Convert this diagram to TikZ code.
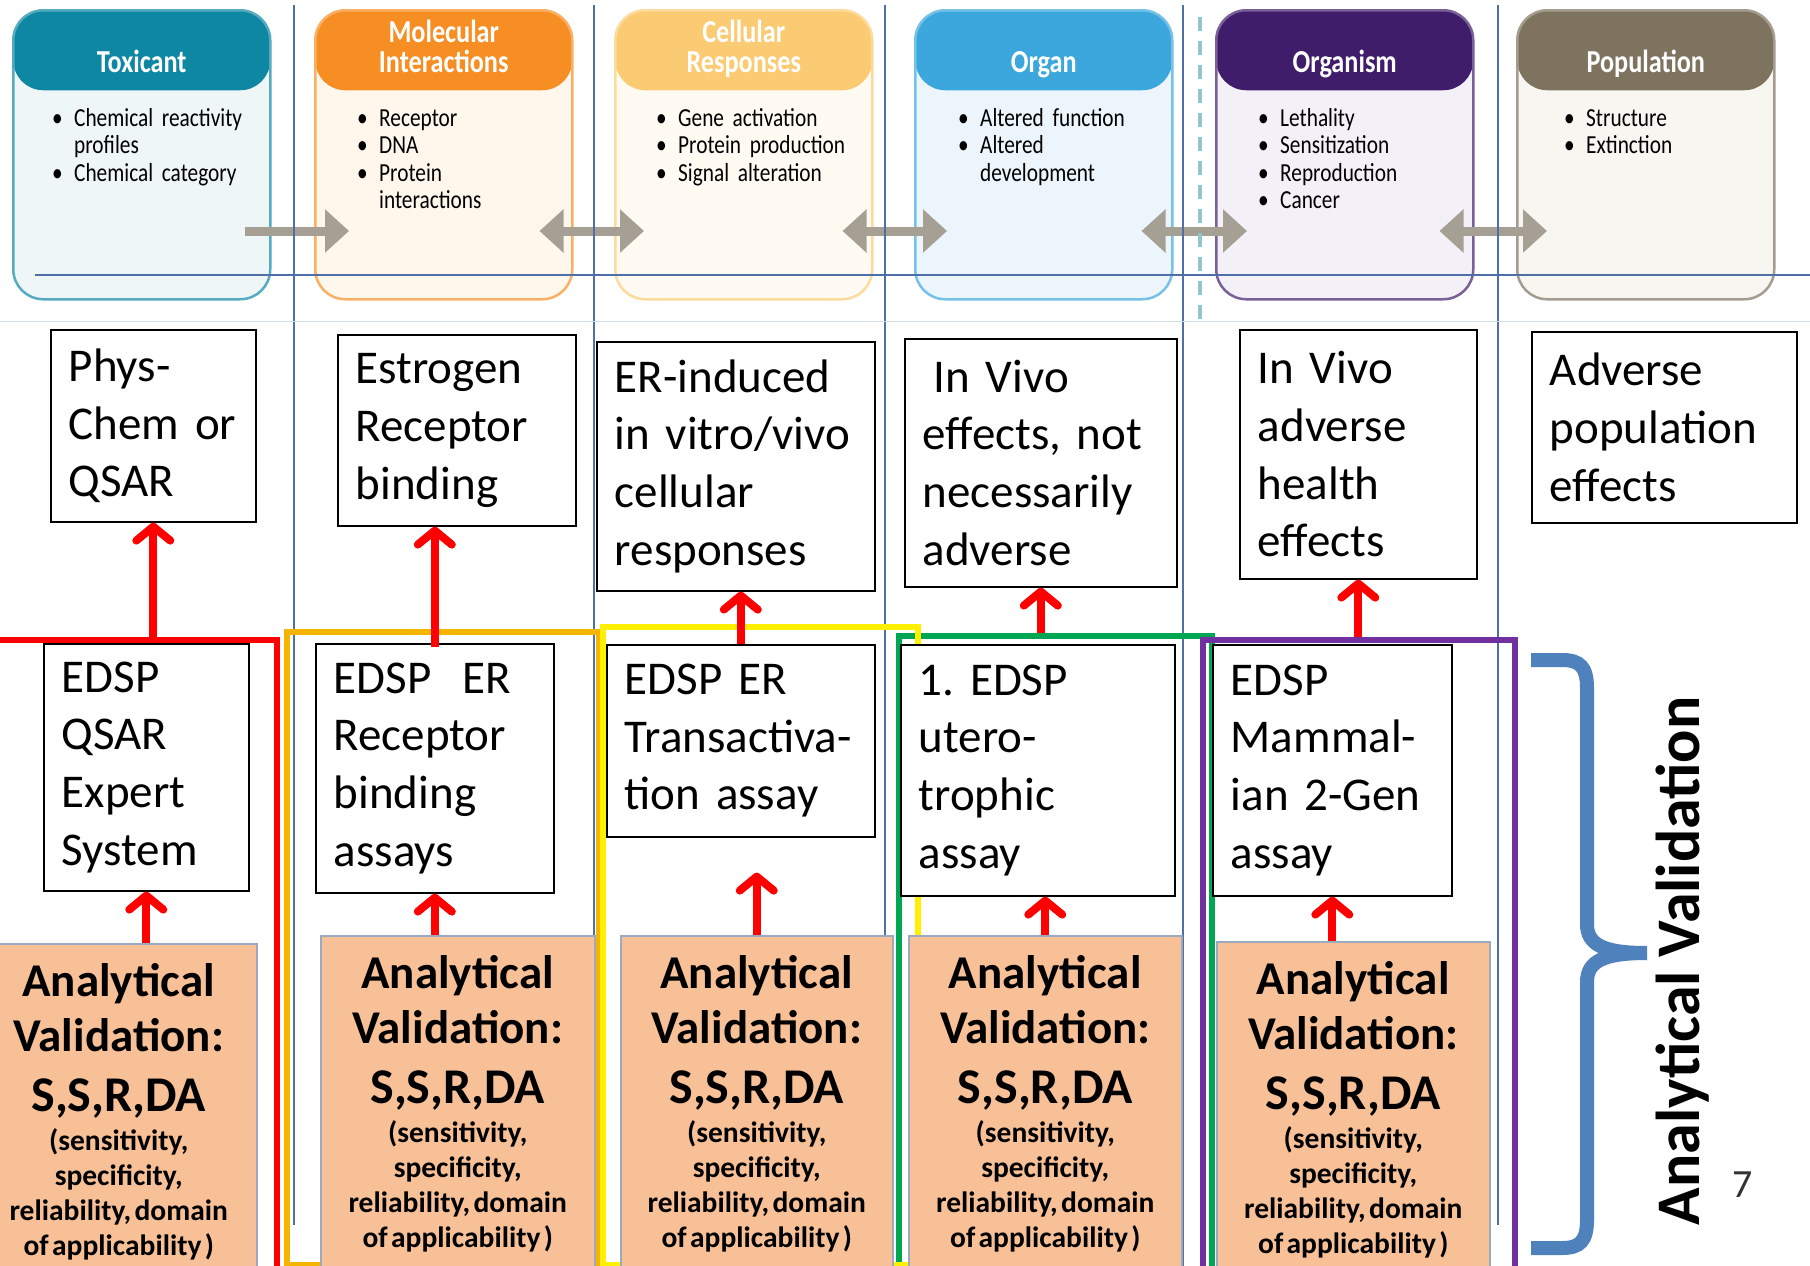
\documentclass[tikz,border=0pt]{standalone}
\usepackage{fontspec}
\setmainfont{Carlito}
\newfontfamily\narrowfont[FakeStretch=0.82]{Carlito}
\usepackage{xcolor}
\usepackage{tikz}
\usetikzlibrary{arrows.meta,positioning}
\hyphenpenalty=10000
\exhyphenpenalty=10000
\definecolor{toxband}{HTML}{0E87A3}
\definecolor{toxbody}{HTML}{EEF6F8}
\definecolor{molband}{HTML}{F68E23}
\definecolor{molbody}{HTML}{FFF6EC}
\definecolor{celband}{HTML}{FBCB73}
\definecolor{celbody}{HTML}{FFFBF3}
\definecolor{orgband}{HTML}{3BA7DD}
\definecolor{orgbody}{HTML}{ECF5FB}
\definecolor{orgmband}{HTML}{3F1D6A}
\definecolor{orgmbody}{HTML}{F3F0F7}
\definecolor{popband}{HTML}{7D735F}
\definecolor{popbody}{HTML}{F8F6F1}
\definecolor{arrowgray}{HTML}{A69F94}
\definecolor{gridblue}{HTML}{4F6FA8}
\definecolor{faintblue}{HTML}{D0DEEB}
\definecolor{dashteal}{HTML}{8FC6CF}
\definecolor{frred}{HTML}{FF0000}
\definecolor{frgold}{HTML}{F5B400}
\definecolor{fryel}{HTML}{FFF000}
\definecolor{frgrn}{HTML}{00A651}
\definecolor{frpur}{HTML}{7030A0}
\definecolor{avfill}{HTML}{F7C097}
\definecolor{avborder}{HTML}{9AAAC0}
\definecolor{arrred}{HTML}{FF0000}
\definecolor{braceblue}{HTML}{4F81BD}
\newcommand{\boxfont}{\fontsize{47}{57.7}\selectfont}
\newcommand{\avhead}{\fontsize{47}{55}\selectfont\bfseries}
\newcommand{\avssr}{\fontsize{50}{60}\selectfont\bfseries}
\newcommand{\avsmall}{\fontsize{29.5}{35}\selectfont\bfseries}
\newcommand{\bul}{\makebox[22pt][l]{\textbullet}}
\newcommand{\ind}{\hspace*{22pt}}
\newcommand{\avcontent}{{\avhead Analytical\\Validation:\par}{\avssr S,S,R,DA\par}{\avsmall\vspace{4pt}(sensitivity,\\specificity,\\reliability,~domain\\of~applicability~)\par}}
\tikzset{
    stage/.style 2 args={draw=#1!70, line width=2.5pt, fill=#2, rounded corners=30pt,
        minimum width=257pt, minimum height=289pt, anchor=north west, inner sep=0pt,
        path picture={\fill[#1] (path picture bounding box.north west) rectangle ([yshift=-80pt]path picture bounding box.north east);}},
    stagetitle/.style={text=white, font=\narrowfont\bfseries\fontsize{32}{30}\selectfont, align=center, anchor=base, inner sep=0pt},
    stagelist/.style={font=\narrowfont\fontsize{26}{27.5}\selectfont, text width=210pt, align=left, anchor=base west, inner sep=0pt},
    grayarr/.style={draw=arrowgray, line width=9pt, -{Triangle[length=24pt,width=42pt]}},
    grayarrtwo/.style={draw=arrowgray, line width=9pt, {Triangle[length=24pt,width=42pt]}-{Triangle[length=24pt,width=42pt]}},
    gridline/.style={draw=gridblue, line width=1.3pt},
    txtbox/.style 2 args={draw=black, line width=1.6pt, fill=white, anchor=north west, align=left, inner xsep=18pt, inner ysep=0pt, text width=#1, minimum height=#2, font=\boxfont},
    grp/.style={draw=#1, line width=6pt, anchor=north west, inner sep=0pt},
    avbox/.style={draw=avborder, line width=1.5pt, fill=avfill, anchor=north west, inner sep=0pt, minimum height=340pt},
    avtext/.style={anchor=base, align=center, inner sep=0pt, text width=#1},
    redarr/.style={draw=arrred, line width=8pt, -{Straight Barb[length=14pt,width=34pt,round]}},
    brace/.style={draw=braceblue, line width=14pt}
}
\begin{document}
\begin{tikzpicture}[x=1pt,y=-1pt]
            \useasboundingbox (0,0) rectangle (1810,1266);
            \fill[white] (0,0) rectangle (1810,1266);
            % stages
            \node[stage={toxband}{toxbody}] (tox) at (12,9) {};
            \node[stage={molband}{molbody}] (mol) at (314,9) {};
            \node[stage={celband}{celbody}] (cel) at (614,9) {};
            \node[stage={orgband}{orgbody}] (org) at (914,9) {};
            \node[stage={orgmband}{orgmbody}] (orgm) at (1215,9) {};
            \node[stage={popband}{popbody}] (pop) at (1516,9) {};
            \node[stagetitle] (toxT) at ([yshift=-63pt]tox.north) {Toxicant};
            \node[stagetitle] (molT) at ([yshift=-63pt]mol.north) {Molecular\\Interactions};
            \node[stagetitle] (celT) at ([yshift=-63pt]cel.north) {Cellular\\Responses};
            \node[stagetitle] (orgT) at ([yshift=-63pt]org.north) {Organ};
            \node[stagetitle] (orgmT) at ([yshift=-63pt]orgm.north) {Organism};
            \node[stagetitle] (popT) at ([yshift=-63pt]pop.north) {Population};
            \node[stagelist] (toxL) at ([shift={(40pt,-117pt)}]tox.north west) {\bul Chemical reactivity\\\ind profiles\\\bul Chemical category};
            \node[stagelist] (molL) at ([shift={(43pt,-117pt)}]mol.north west) {\bul Receptor\\\bul DNA\\\bul Protein\\\ind interactions};
            \node[stagelist] (celL) at ([shift={(42pt,-117pt)}]cel.north west) {\bul Gene activation\\\bul Protein production\\\bul Signal alteration};
            \node[stagelist] (orgL) at ([shift={(44pt,-117pt)}]org.north west) {\bul Altered function\\\bul Altered\\\ind development};
            \node[stagelist] (orgmL) at ([shift={(43pt,-117pt)}]orgm.north west) {\bul Lethality\\\bul Sensitization\\\bul Reproduction\\\bul Cancer};
            \node[stagelist] (popL) at ([shift={(48pt,-117pt)}]pop.north west) {\bul Structure\\\bul Extinction};
            \draw[grayarr] ([shift={(-27pt,-222pt)}]tox.north east) -- ([shift={(35pt,-222pt)}]mol.north west);
            \draw[grayarrtwo] ([shift={(-34pt,-222pt)}]mol.north east) -- ([shift={(30pt,-222pt)}]cel.north west);
            \draw[grayarrtwo] ([shift={(-31pt,-222pt)}]cel.north east) -- ([shift={(33pt,-222pt)}]org.north west);
            \draw[grayarrtwo] ([shift={(-32pt,-222pt)}]org.north east) -- ([shift={(32pt,-222pt)}]orgm.north west);
            \draw[grayarrtwo] ([shift={(-35pt,-222pt)}]orgm.north east) -- ([shift={(31pt,-222pt)}]pop.north west);
            % guide lines
            \draw[gridline] (294,5) -- (294,1225);
            \draw[gridline] (594,5) -- (594,1225);
            \draw[gridline] (885,5) -- (885,1266);
            \draw[gridline] (1183,5) -- (1183,1266);
            \draw[gridline] (1498,5) -- (1498,1225);
            \draw[gridline] (35,275) -- (1810,275);
            \draw[faintblue, line width=1pt] (0,321) -- (1810,321);
            \draw[dashteal, line width=4pt, dash pattern=on 14pt off 10pt] (1200,17) -- (1200,323);
            % effects
            \node[txtbox={169pt}{192pt}] (m1) at (50,329) {Phys-\\Chem~or\\QSAR};
            \node[txtbox={202pt}{191pt}] (m2) at (337,334) {Estrogen\\Receptor\\binding};
            \node[txtbox={242pt}{249pt}] (m3) at (596,341) {ER-induced\\in~vitro/vivo\\cellular\\responses};
            \node[txtbox={236pt}{248pt}] (m4) at (904,338) {\hspace*{11pt}In~Vivo\\effects,~not\\necessarily\\adverse};
            \node[txtbox={201pt}{249pt}] (m5) at (1239,329) {In~Vivo\\adverse\\health\\effects};
            \node[txtbox={229pt}{191pt}] (m6) at (1531,331) {Adverse\\population\\effects};
            % groups
            \node[grp=frred, minimum width=284pt, minimum height=700pt] (gred) at (-10,637) {};
            \node[grp=frgold, minimum width=312pt, minimum height=633pt] (ggold) at (284,629) {};
            \node[grp=frgrn, minimum width=313pt, minimum height=700pt] (ggrn) at (896,633) {};
            \node[grp=fryel, minimum width=315pt, minimum height=638pt] (gyel) at (600,624) {};
            \node[grp=frpur, minimum width=312pt, minimum height=700pt] (gpur) at (1200,637) {};
            % assays
            \node[txtbox={169pt}{247pt}] (l1) at (43,643) {EDSP\\QSAR\\Expert\\System};
            \node[txtbox={202pt}{249pt}] (l2) at (315,643) {EDSP~~ER\\Receptor\\binding\\assays};
            \node[txtbox={232pt}{192pt}] (l3) at (606,644) {EDSP~ER\\Transactiva-\\tion~assay};
            \node[txtbox={238pt}{251pt}] (l4) at (900,644) {1.~EDSP\\utero-\\trophic\\assay};
            \node[txtbox={203pt}{251pt}] (l5) at (1212,644) {EDSP\\Mammal-\\ian~2-Gen\\assay};
            \node[avbox, minimum width=276pt] (o1) at (-20,943) {};
            \node[avbox, minimum width=274pt] (o2) at (320,935) {};
            \node[avbox, minimum width=272pt] (o3) at (620,935) {};
            \node[avbox, minimum width=273pt] (o4) at (908,935) {};
            \node[avbox, minimum width=273pt] (o5) at (1216,941) {};
            \node[avtext=266pt] (o1t) at ([yshift=-53pt]o1.north) {\avcontent};
            \node[avtext=264pt] (o2t) at ([yshift=-53pt]o2.north) {\avcontent};
            \node[avtext=262pt] (o3t) at ([yshift=-53pt]o3.north) {\avcontent};
            \node[avtext=263pt] (o4t) at ([yshift=-53pt]o4.north) {\avcontent};
            \node[avtext=263pt] (o5t) at ([yshift=-53pt]o5.north) {\avcontent};
            % red arrows
            \draw[redarr] (m1.south |- gred.north) -- (m1.south);
            \draw[redarr] ([yshift=-4pt]l2.north) -- (l2.north |- m2.south);
            \draw[redarr] (l3.north) -- (l3.north |- m3.south);
            \draw[redarr] (m4.south |- ggrn.north) -- (m4.south);
            \draw[redarr] (m5.south |- gpur.north) -- (m5.south);
            \draw[redarr] (l1.south |- o1.north) -- (l1.south);
            \draw[redarr] (l2.south |- o2.north) -- (l2.south);
            \coordinate (l3b) at ([yshift=-35pt]l3.south);
            \draw[redarr] (o3.north) -- (o3.north |- l3b);
            \draw[redarr] (o4.north) -- (o4.north |- l4.south);
            \draw[redarr] (l5.south |- o5.north) -- (l5.south);
            % brace
            \draw[brace] (1531,660) -- (1562,660) .. controls (1580,660) and (1587,667) .. (1587,688) -- (1587,924) .. controls (1587,945) and (1604,953) .. (1647,953)
                .. controls (1604,953) and (1587,961) .. (1587,982) -- (1587,1220) .. controls (1587,1241) and (1580,1248) .. (1562,1248) -- (1531,1248);
            \node[rotate=90, font=\fontsize{62}{70}\selectfont\bfseries] (avlbl) at (1683,961) {Analytical Validation};
            \node[font=\fontsize{40}{44}\selectfont, text=black!80] (pgnum) at (1743,1185) {7};
            %{EDSP tier 1}
\end{tikzpicture}
\end{document}
